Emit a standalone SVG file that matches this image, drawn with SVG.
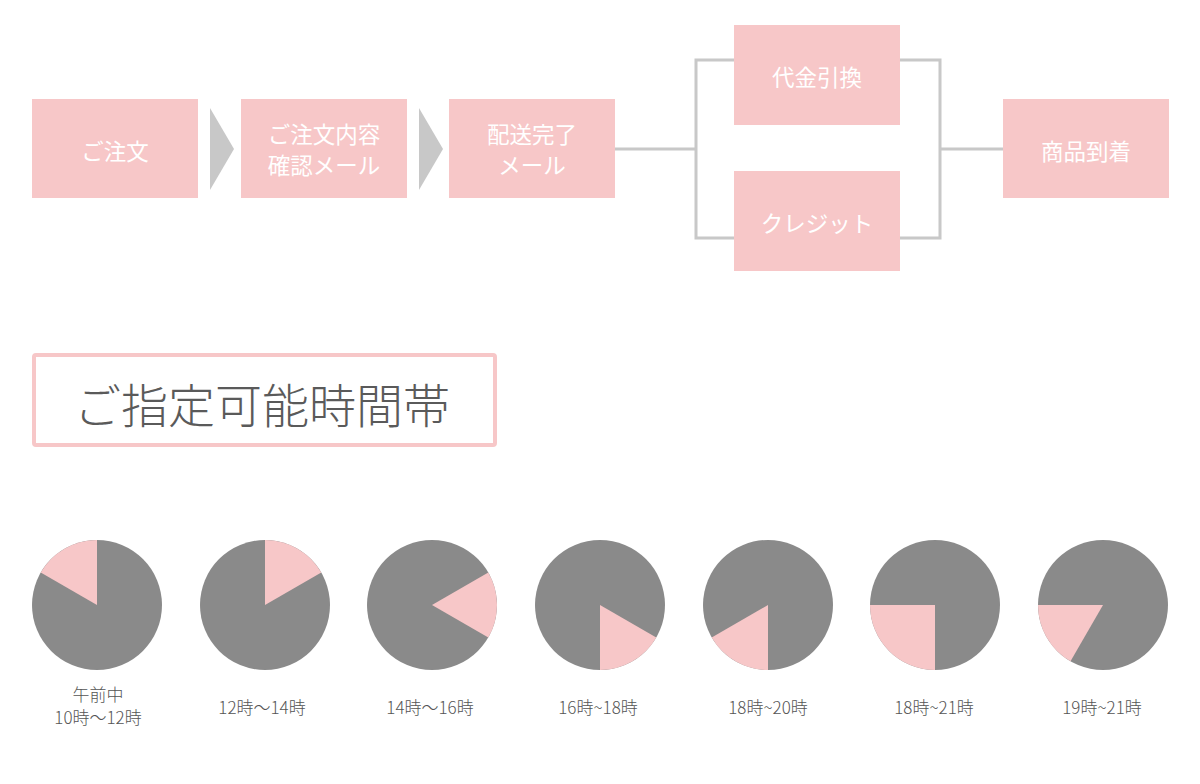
<svg xmlns="http://www.w3.org/2000/svg" width="1200" height="784" viewBox="0 0 1200 784">
<style>
.box{fill:#f7c7c8}
.arr{fill:#c8c8c8}
.bt{font-family:"Noto Sans CJK JP",sans-serif;font-size:22.5px;fill:#ffffff;text-anchor:middle;dominant-baseline:central}
.conn{fill:none;stroke:#c8c8c8;stroke-width:3}
.pg{fill:#8a8a8a}
.pp{fill:#f7c7c8}
.lb{font-family:"Noto Sans CJK JP",sans-serif;font-size:17px;font-weight:300;fill:#555555;text-anchor:middle;dominant-baseline:central}
</style>
<rect width="1200" height="784" fill="#ffffff"/>
<g id="connectors">
<polyline class="conn" points="615,149 696,149"/>
<polyline class="conn" points="734,60 696,60 696,238 734,238"/>
<polyline class="conn" points="900,60 940,60 940,238 900,238"/>
<polyline class="conn" points="940,149 1003,149"/>
<polygon class="arr" points="210,108 234,149 210,190"/>
<polygon class="arr" points="419,108 443,149 419,190"/>
</g>
<g id="n1"><rect class="box" x="32" y="99" width="166" height="99"/><text class="bt" x="115" y="150">ご注文</text></g>
<g id="n2"><rect class="box" x="241" y="99" width="166" height="99"/><text class="bt" x="324" y="133">ご注文内容</text><text class="bt" x="324" y="164">確認メール</text></g>
<g id="n3"><rect class="box" x="449" y="99" width="166" height="99"/><text class="bt" x="532" y="133">配送完了</text><text class="bt" x="532" y="164">メール</text></g>
<g id="n4"><rect class="box" x="734" y="25" width="166" height="100"/><text class="bt" x="817" y="76">代金引換</text></g>
<g id="n5"><rect class="box" x="734" y="171" width="166" height="100"/><text class="bt" x="817" y="222">クレジット</text></g>
<g id="n6"><rect class="box" x="1003" y="99" width="166" height="99"/><text class="bt" x="1086" y="150">商品到着</text></g>
<g id="title"><rect x="34" y="355" width="461" height="90" rx="2" fill="#ffffff" stroke="#f7c7c8" stroke-width="4"/><text x="262" y="402" font-family="'Noto Sans CJK JP',sans-serif" font-size="47" font-weight="300" fill="#5a5a5a" text-anchor="middle" dominant-baseline="central">ご指定可能時間帯</text></g>
<g id="pie1"><circle class="pg" cx="97" cy="605" r="65"/><path class="pp" d="M97,605 L40.71,572.5 A65,65 0 0 1 97,540 Z"/><text class="lb" x="98" y="693">午前中</text><text class="lb" x="98" y="716">10時〜12時</text></g>
<g id="pie2"><circle class="pg" cx="265" cy="605" r="65"/><path class="pp" d="M265,605 L265,540 A65,65 0 0 1 321.29,572.5 Z"/><text class="lb" x="262" y="706">12時〜14時</text></g>
<g id="pie3"><circle class="pg" cx="432" cy="605" r="65"/><path class="pp" d="M432,605 L488.29,572.5 A65,65 0 0 1 488.29,637.5 Z"/><text class="lb" x="430" y="706">14時〜16時</text></g>
<g id="pie4"><circle class="pg" cx="600" cy="605" r="65"/><path class="pp" d="M600,605 L656.29,637.5 A65,65 0 0 1 600,670 Z"/><text class="lb" x="598" y="706">16時~18時</text></g>
<g id="pie5"><circle class="pg" cx="768" cy="605" r="65"/><path class="pp" d="M768,605 L768,670 A65,65 0 0 1 711.71,637.5 Z"/><text class="lb" x="768" y="706">18時~20時</text></g>
<g id="pie6"><circle class="pg" cx="935" cy="605" r="65"/><path class="pp" d="M935,605 L935,670 A65,65 0 0 1 870,605 Z"/><text class="lb" x="934" y="706">18時~21時</text></g>
<g id="pie7"><circle class="pg" cx="1103" cy="605" r="65"/><path class="pp" d="M1103,605 L1070.5,661.29 A65,65 0 0 1 1038,605 Z"/><text class="lb" x="1102" y="706">19時~21時</text></g>
</svg>
